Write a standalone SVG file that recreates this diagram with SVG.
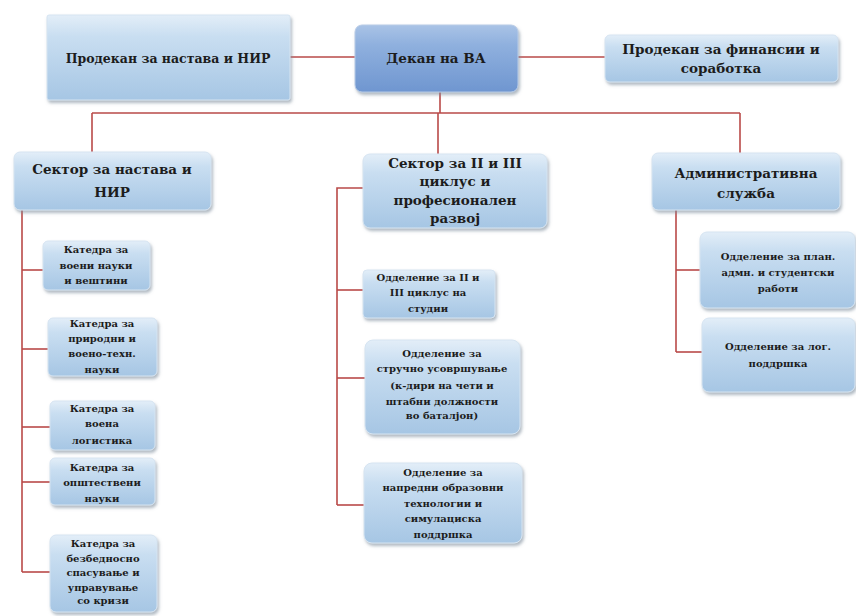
<svg xmlns="http://www.w3.org/2000/svg" width="856" height="616" viewBox="0 0 856 616">
<defs>
<linearGradient id="gBox" x1="0" y1="0" x2="0" y2="1">
<stop offset="0" stop-color="#e3eef8"/>
<stop offset="0.25" stop-color="#c9def1"/>
<stop offset="1" stop-color="#a6c6e4"/>
</linearGradient>
<linearGradient id="gDean" x1="0" y1="0" x2="0" y2="1">
<stop offset="0" stop-color="#a9c3e6"/>
<stop offset="0.3" stop-color="#8fb0de"/>
<stop offset="1" stop-color="#6f96d0"/>
</linearGradient>
<filter id="sh" x="-10%" y="-10%" width="125%" height="135%">
<feDropShadow dx="1.5" dy="2.5" stdDeviation="1.8" flood-color="#7a8a99" flood-opacity="0.6"/>
</filter>
</defs>
<style>
.box{fill:url(#gBox);filter:url(#sh);stroke:#d6e4f1;stroke-width:1}
.dean{fill:url(#gDean);filter:url(#sh);stroke:#b8cbe6;stroke-width:1}
.t{font-family:"DejaVu Serif","Liberation Serif",serif;font-weight:bold;fill:#1c1c1c;text-anchor:middle}
.big{font-size:13.5px}
.sm{font-size:10px}
.c{fill:none;stroke:#b94a48;stroke-width:1.6}
</style>
<rect width="856" height="616" fill="#ffffff"/>

<g id="connectors">
<path class="c" d="M290 57 H355"/>
<path class="c" d="M518 57 H605"/>
<path class="c" d="M440 92 V113"/>
<path class="c" d="M92 113 H740"/>
<path class="c" d="M92 113 V152"/>
<path class="c" d="M438 113 V154"/>
<path class="c" d="M740 113 V153"/>
<path class="c" d="M22 210 V572"/>
<path class="c" d="M22 270 H43"/>
<path class="c" d="M22 349 H48"/>
<path class="c" d="M22 427 H50"/>
<path class="c" d="M22 482 H50"/>
<path class="c" d="M22 572 H50"/>
<path class="c" d="M363 188 H337 V505"/>
<path class="c" d="M337 290 H363"/>
<path class="c" d="M337 378 H365"/>
<path class="c" d="M337 505 H365"/>
<path class="c" d="M676 210 V352"/>
<path class="c" d="M676 270 H700"/>
<path class="c" d="M676 352 H702"/>
</g>

<g id="prodekan-nastava">
<rect class="box" x="47" y="15" width="243" height="85" rx="2"/>
<text class="t big" x="168" y="63" style="font-size:12.5px">Продекан за настава и НИР</text>
</g>
<g id="dekan">
<rect class="dean" x="355" y="25" width="163" height="67" rx="7"/>
<text class="t big" x="436" y="63">Декан на ВА</text>
</g>
<g id="prodekan-finansii">
<rect class="box" x="605" y="35" width="233" height="47" rx="5"/>
<text class="t big" x="721" y="54">Продекан за финансии и</text>
<text class="t big" x="721" y="73">соработка</text>
</g>

<g id="sektor-nastava">
<rect class="box" x="14" y="152" width="197" height="58" rx="6"/>
<text class="t big" x="112" y="174">Сектор за настава и</text>
<text class="t big" x="112" y="197">НИР</text>
</g>
<g id="sektor-ciklus">
<rect class="box" x="363" y="154" width="184" height="74" rx="7"/>
<text class="t big" x="455" y="168">Сектор за II и III</text>
<text class="t big" x="455" y="186">циклус и</text>
<text class="t big" x="455" y="205">професионален</text>
<text class="t big" x="455" y="223">развој</text>
</g>
<g id="admin-sluzba">
<rect class="box" x="652" y="153" width="188" height="57" rx="6"/>
<text class="t big" x="746" y="178">Административна</text>
<text class="t big" x="746" y="198">служба</text>
</g>

<g id="katedra-voeni">
<rect class="box" x="43" y="241" width="107" height="49" rx="5"/>
<text class="t sm" x="96" y="253">Катедра за</text>
<text class="t sm" x="96" y="269">воени науки</text>
<text class="t sm" x="96" y="284">и вештини</text>
</g>
<g id="katedra-prirodni">
<rect class="box" x="48" y="318" width="109" height="58" rx="5"/>
<text class="t sm" x="102" y="327">Катедра за</text>
<text class="t sm" x="102" y="342">природни и</text>
<text class="t sm" x="102" y="357">воено-техн.</text>
<text class="t sm" x="102" y="373">науки</text>
</g>
<g id="katedra-logistika">
<rect class="box" x="50" y="401" width="105" height="49" rx="5"/>
<text class="t sm" x="102" y="412">Катедра за</text>
<text class="t sm" x="102" y="427">воена</text>
<text class="t sm" x="102" y="444">логистика</text>
</g>
<g id="katedra-opstestveni">
<rect class="box" x="50" y="458" width="105" height="47" rx="5"/>
<text class="t sm" x="102" y="471">Катедра за</text>
<text class="t sm" x="102" y="486">општествени</text>
<text class="t sm" x="102" y="502">науки</text>
</g>
<g id="katedra-bezbednosno">
<rect class="box" x="50" y="535" width="107" height="77" rx="6"/>
<text class="t sm" x="103" y="547">Катедра за</text>
<text class="t sm" x="103" y="562">безбедносно</text>
<text class="t sm" x="103" y="576">спасување и</text>
<text class="t sm" x="103" y="591">управување</text>
<text class="t sm" x="103" y="604">со кризи</text>
</g>

<g id="oddelenie-ciklus">
<rect class="box" x="363" y="270" width="132" height="48" rx="4"/>
<text class="t sm" x="428" y="281">Одделение за II и</text>
<text class="t sm" x="428" y="296">III циклус на</text>
<text class="t sm" x="428" y="312">студии</text>
</g>
<g id="oddelenie-strucno">
<rect class="box" x="365" y="340" width="155" height="94" rx="8"/>
<text class="t sm" x="442" y="357">Одделение за</text>
<text class="t sm" x="442" y="372">стручно усовршување</text>
<text class="t sm" x="442" y="389">(к-дири на чети и</text>
<text class="t sm" x="442" y="405">штабни должности</text>
<text class="t sm" x="442" y="419">во баталјон)</text>
</g>
<g id="oddelenie-napredni">
<rect class="box" x="364" y="463" width="158" height="80" rx="8"/>
<text class="t sm" x="443" y="476">Одделение за</text>
<text class="t sm" x="443" y="491">напредни образовни</text>
<text class="t sm" x="443" y="507">технологии и</text>
<text class="t sm" x="443" y="522">симулациска</text>
<text class="t sm" x="443" y="538">поддршка</text>
</g>

<g id="oddelenie-plan">
<rect class="box" x="700" y="232" width="155" height="76" rx="7"/>
<text class="t sm" x="778" y="260">Одделение за план.</text>
<text class="t sm" x="778" y="276">адмн. и студентски</text>
<text class="t sm" x="778" y="292">работи</text>
</g>
<g id="oddelenie-log">
<rect class="box" x="702" y="318" width="153" height="74" rx="7"/>
<text class="t sm" x="778" y="350">Одделение за лог.</text>
<text class="t sm" x="778" y="367">поддршка</text>
</g>
</svg>
